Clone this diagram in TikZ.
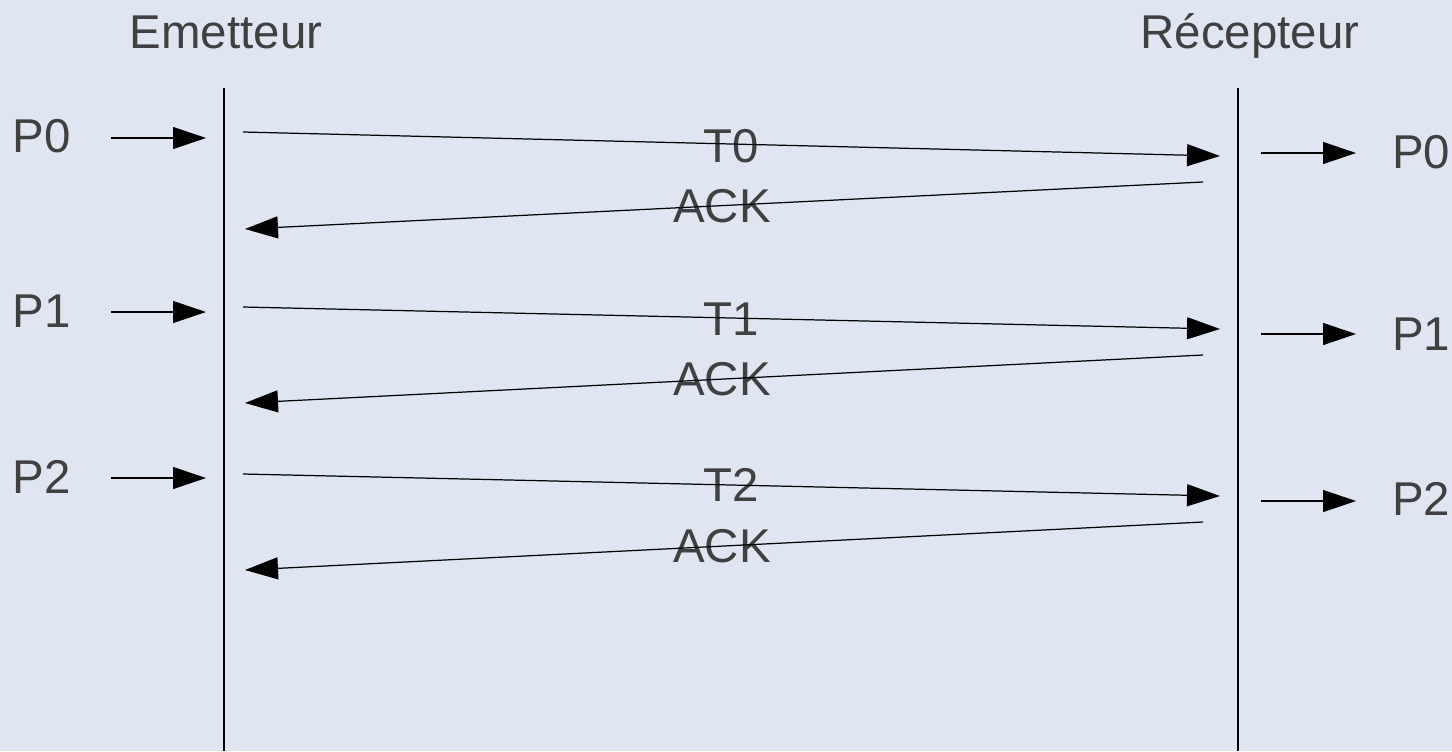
\documentclass[tikz,border=0pt]{standalone}
\usepackage{fontspec}
\setmainfont{Liberation Sans}
\usetikzlibrary{arrows.meta,positioning}
\definecolor{bgblue}{HTML}{DFE6F1}
\definecolor{txtgray}{HTML}{404040}
\tikzset{
  lifeline/.style={line width=0.6pt},
  msg/.style={line width=0.7pt,-{Triangle[length=0.66cm,width=0.44cm]}},
  lbl/.style={font=\fontsize{27}{32}\selectfont,text=txtgray,inner sep=0pt,anchor=base}
}

\begin{document}
\begin{tikzpicture}[x=0.02cm,y=-0.02cm]
  \fill[bgblue] (0,0) rectangle (1452,751);
  % actors
  \node[lbl] (emetteur) at (226,48) {Emetteur};
  \node[lbl] (recepteur) at (1250,48) {Récepteur};
  \coordinate (emtop) at (224,88);
  \coordinate (embot) at (224,751);
  \coordinate (rectop) at (1238,88);
  \coordinate (recbot) at (1238,751);
  \draw[lifeline] (emtop) -- (embot);
  \draw[lifeline] (rectop) -- (recbot);
  % packet labels
  \node[lbl] (p0in) at (42,152) {P0};
  \node[lbl] (p1in) at (42,327) {P1};
  \node[lbl] (p2in) at (42,493) {P2};
  \node[lbl] (p0out) at (1421,168) {P0};
  \node[lbl] (p1out) at (1421,350) {P1};
  \node[lbl] (p2out) at (1421,515) {P2};
  % frame labels
  \node[lbl] (t0) at (731,162) {T0};
  \node[lbl] (ack0) at (722,222) {ACK};
  \node[lbl] (t1) at (731,335) {T1};
  \node[lbl] (ack1) at (722,395) {ACK};
  \node[lbl] (t2) at (731,501) {T2};
  \node[lbl] (ack2) at (722,562) {ACK};
  % end points
  \coordinate (in0s) at (111,138);  \coordinate (in0e) at (206,138);
  \coordinate (in1s) at (111,312);  \coordinate (in1e) at (206,312);
  \coordinate (in2s) at (111,478);  \coordinate (in2e) at (206,478);
  \coordinate (out0s) at (1261,153); \coordinate (out0e) at (1356,153);
  \coordinate (out1s) at (1261,334); \coordinate (out1e) at (1356,334);
  \coordinate (out2s) at (1261,501); \coordinate (out2e) at (1356,501);
  \coordinate (f0s) at (243,132); \coordinate (f0e) at (1220,156);
  \coordinate (f1s) at (243,307); \coordinate (f1e) at (1220,329);
  \coordinate (f2s) at (243,474); \coordinate (f2e) at (1220,496);
  \coordinate (a0s) at (1203,182); \coordinate (a0e) at (245,229);
  \coordinate (a1s) at (1203,355); \coordinate (a1e) at (245,403);
  \coordinate (a2s) at (1203,522); \coordinate (a2e) at (245,570);
  % arrows
  \draw[msg] (in0s) -- (in0e);
  \draw[msg] (in1s) -- (in1e);
  \draw[msg] (in2s) -- (in2e);
  \draw[msg] (out0s) -- (out0e);
  \draw[msg] (out1s) -- (out1e);
  \draw[msg] (out2s) -- (out2e);
  \draw[msg] (f0s) -- (f0e);
  \draw[msg] (f1s) -- (f1e);
  \draw[msg] (f2s) -- (f2e);
  \draw[msg] (a0s) -- (a0e);
  \draw[msg] (a1s) -- (a1e);
  \draw[msg] (a2s) -- (a2e);
\end{tikzpicture}
\end{document}
